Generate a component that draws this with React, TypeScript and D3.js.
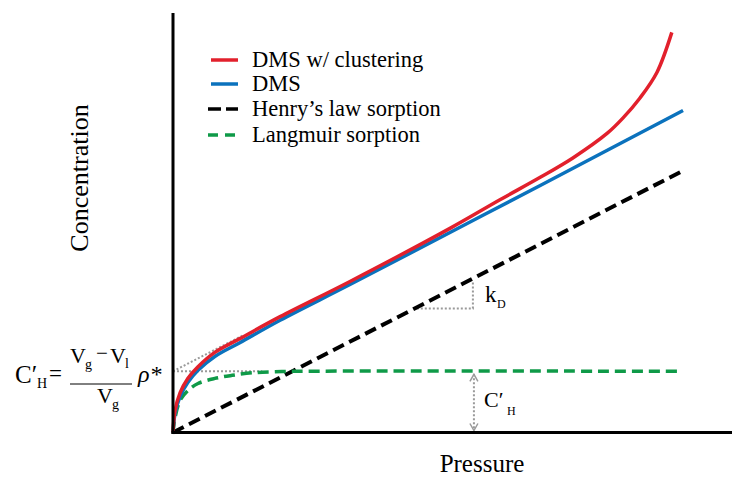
import React, { useEffect, useRef } from "react";
import * as d3 from "d3";

// pressure (arbitrary units) and concentration
const henryP = [0, 10];
const henryC = [0, 5.13];

const langmuirP = [0, 0.04, 0.14, 0.29, 0.49, 0.82, 1.16, 1.55, 2.0, 2.5, 9.94];
const langmuirC = [0, 0.29, 0.63, 0.82, 0.96, 1.06, 1.12, 1.17, 1.19, 1.2, 1.2];

const dmsP = [0, 0.04, 0.14, 0.29, 0.49, 0.82, 1.31, 2.1, 3.47, 5.43, 7.2, 10];
const dmsC = [0, 0.37, 0.71, 0.98, 1.22, 1.49, 1.76, 2.2, 2.9, 3.92, 4.84, 6.31];

const clusterP = [0, 0.04, 0.14, 0.29, 0.49, 0.82, 1.31, 2.1, 3.47, 5.43, 6.41, 7.2, 7.84, 8.51, 8.82, 9.16, 9.49, 9.78];
const clusterC = [0, 0.43, 0.78, 1.06, 1.29, 1.57, 1.84, 2.27, 2.96, 4.0, 4.56, 5.0, 5.38, 5.86, 6.16, 6.56, 7.06, 7.84];

const legendLabels = ["DMS w/ clustering", "DMS", "Henry\u2019s law sorption", "Langmuir sorption"];
const legendColors = ["#e2202c", "#0b72bd", "#000000", "#0f9a48"];
const legendDash = [null, null, "13,5", "10,7"];

// annotation values
const cHPrime = 1.2;
const kD = 0.513;
const kDTriangle = [4.78, 5.88]; // pressure span of the slope triangle
const cHArrowP = 5.9;

const FONT = "'Liberation Serif', 'Times New Roman', serif";

const App = () => {
  const svgRef = useRef<SVGSVGElement>(null);

  useEffect(() => {
    const svg = d3.select(svgRef.current);
    svg.selectAll("*").remove();

    const x = d3.scaleLinear().domain([0, 10.96]).range([173, 732]);
    const y = d3.scaleLinear().domain([0, 8.22]).range([432.5, 13]);

    const line = d3
      .line<[number, number]>()
      .x((d) => x(d[0]))
      .y((d) => y(d[1]))
      .curve(d3.curveCatmullRom.alpha(0.5));

    const zip = (a: number[], b: number[]) => a.map((v, i) => [v, b[i]] as [number, number]);

    // dotted construction lines
    const grey = "#9a9a9a";
    svg
      .append("line")
      .attr("x1", x(0)).attr("y1", y(cHPrime))
      .attr("x2", x(1.75)).attr("y2", y(cHPrime))
      .attr("stroke", grey).attr("stroke-width", 2).attr("stroke-dasharray", "2,2");
    svg
      .append("line")
      .attr("x1", x(0)).attr("y1", y(cHPrime))
      .attr("x2", x(1.37)).attr("y2", y(cHPrime + kD * 1.37))
      .attr("stroke", grey).attr("stroke-width", 2).attr("stroke-dasharray", "2,2");

    // kD triangle
    const triY = 2.43;
    svg
      .append("path")
      .attr("d", `M${x(kDTriangle[0])},${y(triY)}H${x(kDTriangle[1])}V${y(2.97)}`)
      .attr("fill", "none")
      .attr("stroke", grey).attr("stroke-width", 2).attr("stroke-dasharray", "2,2");

    // C'H arrow
    const ax = x(cHArrowP);
    const yTop = y(cHPrime) + 3;
    const yBot = y(0) - 2;
    svg
      .append("line")
      .attr("x1", ax).attr("y1", yTop).attr("x2", ax).attr("y2", yBot)
      .attr("stroke", grey).attr("stroke-width", 2).attr("stroke-dasharray", "2,2");
    svg
      .append("path")
      .attr("d", `M${ax - 4},${yTop + 7}L${ax},${yTop}L${ax + 4},${yTop + 7}M${ax - 4},${yBot - 7}L${ax},${yBot}L${ax + 4},${yBot - 7}`)
      .attr("fill", "none").attr("stroke", grey).attr("stroke-width", 1.5);

    // curves
    svg.append("path").attr("d", line(zip(henryP, henryC)))
      .attr("fill", "none").attr("stroke", "#000").attr("stroke-width", 4).attr("stroke-dasharray", "12,6");
    svg.append("path").attr("d", line(zip(langmuirP, langmuirC)))
      .attr("fill", "none").attr("stroke", legendColors[3]).attr("stroke-width", 3.5).attr("stroke-dasharray", "11,6");
    svg.append("path").attr("d", line(zip(dmsP, dmsC)))
      .attr("fill", "none").attr("stroke", legendColors[1]).attr("stroke-width", 3.5);
    svg.append("path").attr("d", line(zip(clusterP, clusterC)))
      .attr("fill", "none").attr("stroke", legendColors[0]).attr("stroke-width", 3.5);

    // axes
    svg.append("line")
      .attr("x1", x(0)).attr("y1", y(8.22)).attr("x2", x(0)).attr("y2", y(0) + 1.5)
      .attr("stroke", "#000").attr("stroke-width", 3);
    svg.append("line")
      .attr("x1", x(0) - 1.5).attr("y1", y(0)).attr("x2", x(10.96)).attr("y2", y(0))
      .attr("stroke", "#000").attr("stroke-width", 3);

    // axis titles
    svg.append("text")
      .attr("transform", "translate(88,178) rotate(-90)")
      .attr("text-anchor", "middle")
      .style("font-family", FONT).style("font-size", "26px")
      .text("Concentration");
    svg.append("text")
      .attr("x", 482).attr("y", 472)
      .attr("text-anchor", "middle")
      .style("font-family", FONT).style("font-size", "25px")
      .text("Pressure");

    // legend
    const legendY = [60, 84, 109, 135];
    legendLabels.forEach((label, i) => {
      const g = svg.append("g").attr("transform", `translate(0,${legendY[i]})`);
      g.append("line")
        .attr("x1", legendDash[i] ? 208 : 211).attr("x2", 238)
        .attr("y1", 0).attr("y2", 0)
        .attr("stroke", legendColors[i]).attr("stroke-width", 3.5)
        .attr("stroke-dasharray", legendDash[i]);
      g.append("text")
        .attr("x", 252).attr("y", 7)
        .style("font-family", FONT).style("font-size", "22.5px")
        .text(label);
    });

    const txt = (s: string, tx: number, ty: number, size: number, italic = false) =>
      svg.append("text").attr("x", tx).attr("y", ty)
        .style("font-family", FONT).style("font-size", `${size}px`)
        .style("font-style", italic ? "italic" : "normal")
        .text(s);

    // kD label
    txt("k", 485, 302, 23);
    txt("D", 497, 308, 12);

    // C'H label next to arrow
    txt("C\u2032", 484, 407, 22);
    txt("H", 507, 415, 12);

    // formula on the left
    txt("C\u2032", 15, 383, 25);
    txt("H", 37, 388, 14);
    txt("=", 49, 381, 23);
    txt("V", 70, 363, 22);
    txt("g", 85, 369, 14);
    txt("\u2212", 96, 360, 21);
    txt("V", 110, 363, 22);
    txt("l", 125, 368, 14);
    svg.append("line")
      .attr("x1", 70).attr("x2", 132).attr("y1", 384).attr("y2", 384)
      .attr("stroke", "#000").attr("stroke-width", 1);
    txt("V", 97, 403, 22);
    txt("g", 112, 409, 14);
    txt("\u03c1*", 138, 382, 24, true);
  }, []);

  return (
    <div style={{ position: "fixed", left: 0, top: 0 }}>
      <svg ref={svgRef} width={732} height={477} style={{ display: "block", background: "#fff" }}></svg>
    </div>
  );
};

export default App;
